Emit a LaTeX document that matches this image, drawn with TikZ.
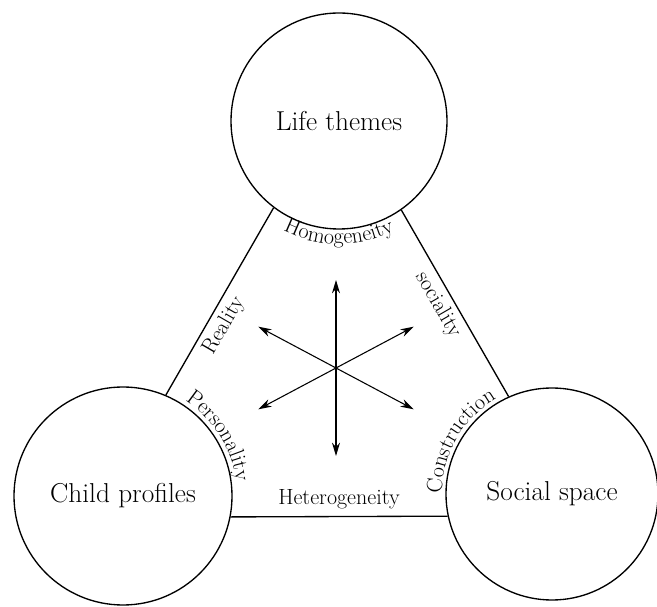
\documentclass[tikz,border=0pt]{standalone}
\usetikzlibrary{arrows.meta,decorations.text}
\tikzset{
  bubble/.style={draw, circle, minimum size=162pt, inner sep=0pt, font=\fontsize{20.5}{24}\selectfont},
  side/.style={font=\fontsize{16.5}{19}\selectfont},
  bend text/.style={decorate, decoration={text along path, text align=center, text={|\fontsize{16.5}{19}\selectfont|#1}}}
}
\begin{document}
\begin{tikzpicture}[x=0.75pt, y=0.75pt, >={Stealth[length=10pt,width=6pt]}, line width=1pt]
\useasboundingbox (0,0) rectangle (657,607);
\node[bubble] (life) at (339,486) {Life themes};
\node[bubble, minimum size=163.5pt] (child) at (123,111) {Child profiles};
\node[bubble, minimum size=159pt] (social) at (552,113) {Social space};

\draw (life.233.4)--(child.67);
\draw (life.305.7)--(social.114);
\draw (child.349.4)--(social.192);

\node[side, rotate=60] (real) at (224,281) {Reality};
\node[side, rotate=-60] (soc) at (438,302) {sociality};
\node[side, anchor=base] (het) at (339,102) {Heterogeneity};

\path[bend text=Homogeneity] ([shift={(228:123)}]life.center) arc[start angle=228, end angle=312, radius=123];
\path[bend text=Personality] ([shift={(72:114)}]child.center) arc[start angle=72, end angle=-8, radius=114];
\path[bend text=Construction] ([shift={(192:110)}]social.center) arc[start angle=192, end angle=108, radius=110];

\coordinate (hub) at (336,239);
\foreach \a in {90,28,152}
  \draw[<->, line width=0.8pt] ([shift={(\a:88)}]hub)--([shift={(\a+180:88)}]hub);

\end{tikzpicture}
\end{document}
